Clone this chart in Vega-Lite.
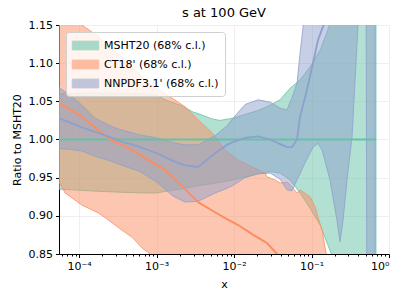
{
  "$schema": "https://vega.github.io/schema/vega-lite/v6.json",
  "width": 330,
  "height": 229,
  "autosize": {"type": "none"},
  "padding": {"left": 59, "top": 25, "right": 18, "bottom": 45},
  "title": {"text": "s at 100 GeV", "fontSize": 13, "fontWeight": "normal", "font": "DejaVu Sans", "offset": -1, "frame": "group", "color": "black"},
  "data": {"values": [
    {"pdf": "MSHT20 (68% c.l.)", "x": 5.5e-5, "lo": 0.935, "c": 1.0, "hi": 1.06},
    {"pdf": "MSHT20 (68% c.l.)", "x": 1.87e-4, "lo": 0.932, "c": 1.0, "hi": 1.061},
    {"pdf": "MSHT20 (68% c.l.)", "x": 6.12e-4, "lo": 0.93, "c": 1.0, "hi": 1.06},
    {"pdf": "MSHT20 (68% c.l.)", "x": 1.01e-3, "lo": 0.93, "c": 1.0, "hi": 1.058},
    {"pdf": "MSHT20 (68% c.l.)", "x": 1.29e-3, "lo": 0.932, "c": 1.0, "hi": 1.052},
    {"pdf": "MSHT20 (68% c.l.)", "x": 2.01e-3, "lo": 0.935, "c": 1.0, "hi": 1.045},
    {"pdf": "MSHT20 (68% c.l.)", "x": 2.96e-3, "lo": 0.938, "c": 1.0, "hi": 1.036},
    {"pdf": "MSHT20 (68% c.l.)", "x": 3.64e-3, "lo": 0.94, "c": 1.0, "hi": 1.033},
    {"pdf": "MSHT20 (68% c.l.)", "x": 5.2e-3, "lo": 0.942, "c": 1.0, "hi": 1.027},
    {"pdf": "MSHT20 (68% c.l.)", "x": 6.59e-3, "lo": 0.944, "c": 1.0, "hi": 1.025},
    {"pdf": "MSHT20 (68% c.l.)", "x": 9.71e-3, "lo": 0.947, "c": 1.0, "hi": 1.028},
    {"pdf": "MSHT20 (68% c.l.)", "x": 2.04e-2, "lo": 0.955, "c": 1.0, "hi": 1.038},
    {"pdf": "MSHT20 (68% c.l.)", "x": 2.92e-2, "lo": 0.958, "c": 1.0, "hi": 1.045},
    {"pdf": "MSHT20 (68% c.l.)", "x": 3.93e-2, "lo": 0.956, "c": 1.0, "hi": 1.052},
    {"pdf": "MSHT20 (68% c.l.)", "x": 5.28e-2, "lo": 0.947, "c": 1.0, "hi": 1.067},
    {"pdf": "MSHT20 (68% c.l.)", "x": 7.11e-2, "lo": 0.93, "c": 1.0, "hi": 1.078},
    {"pdf": "MSHT20 (68% c.l.)", "x": 9.57e-2, "lo": 0.91, "c": 1.0, "hi": 1.095},
    {"pdf": "MSHT20 (68% c.l.)", "x": 0.129, "lo": 0.888, "c": 1.0, "hi": 1.117},
    {"pdf": "MSHT20 (68% c.l.)", "x": 0.158, "lo": 0.865, "c": 1.0, "hi": 1.14},
    {"pdf": "MSHT20 (68% c.l.)", "x": 0.184, "lo": 0.848, "c": 1.0, "hi": 1.16},
    {"pdf": "MSHT20 (68% c.l.)", "x": 0.333, "lo": 0.8, "c": 1.0, "hi": 1.25},
    {"pdf": "MSHT20 (68% c.l.)", "x": 0.679, "lo": 0.75, "c": 1.0, "hi": 1.35},

    {"pdf": "CT18' (68% c.l.)", "x": 5.5e-5, "lo": 0.945, "c": 1.048, "hi": 1.17},
    {"pdf": "CT18' (68% c.l.)", "x": 6.59e-5, "lo": 0.93, "c": 1.043, "hi": 1.165},
    {"pdf": "CT18' (68% c.l.)", "x": 1.09e-4, "lo": 0.914, "c": 1.03, "hi": 1.15},
    {"pdf": "CT18' (68% c.l.)", "x": 1.76e-4, "lo": 0.904, "c": 1.012, "hi": 1.135},
    {"pdf": "CT18' (68% c.l.)", "x": 2.51e-4, "lo": 0.893, "c": 1.0, "hi": 1.12},
    {"pdf": "CT18' (68% c.l.)", "x": 3.59e-4, "lo": 0.881, "c": 0.993, "hi": 1.108},
    {"pdf": "CT18' (68% c.l.)", "x": 4.83e-4, "lo": 0.872, "c": 0.986, "hi": 1.095},
    {"pdf": "CT18' (68% c.l.)", "x": 6.5e-4, "lo": 0.858, "c": 0.978, "hi": 1.082},
    {"pdf": "CT18' (68% c.l.)", "x": 8.75e-4, "lo": 0.848, "c": 0.97, "hi": 1.07},
    {"pdf": "CT18' (68% c.l.)", "x": 1.29e-3, "lo": 0.83, "c": 0.96, "hi": 1.06},
    {"pdf": "CT18' (68% c.l.)", "x": 2.33e-3, "lo": 0.8, "c": 0.935, "hi": 1.043},
    {"pdf": "CT18' (68% c.l.)", "x": 3.43e-3, "lo": 0.79, "c": 0.918, "hi": 1.026},
    {"pdf": "CT18' (68% c.l.)", "x": 5.2e-3, "lo": 0.78, "c": 0.907, "hi": 1.009},
    {"pdf": "CT18' (68% c.l.)", "x": 7.66e-3, "lo": 0.77, "c": 0.897, "hi": 0.986},
    {"pdf": "CT18' (68% c.l.)", "x": 1.13e-2, "lo": 0.76, "c": 0.888, "hi": 0.973},
    {"pdf": "CT18' (68% c.l.)", "x": 1.71e-2, "lo": 0.75, "c": 0.876, "hi": 0.964},
    {"pdf": "CT18' (68% c.l.)", "x": 2.51e-2, "lo": 0.74, "c": 0.866, "hi": 0.956},
    {"pdf": "CT18' (68% c.l.)", "x": 2.67e-2, "lo": 0.738, "c": 0.864, "hi": 0.951},
    {"pdf": "CT18' (68% c.l.)", "x": 3.38e-2, "lo": 0.73, "c": 0.853, "hi": 0.947},
    {"pdf": "CT18' (68% c.l.)", "x": 3.93e-2, "lo": 0.72, "c": 0.845, "hi": 0.943},
    {"pdf": "CT18' (68% c.l.)", "x": 4.94e-2, "lo": 0.71, "c": 0.84, "hi": 0.944},
    {"pdf": "CT18' (68% c.l.)", "x": 6.5e-2, "lo": 0.7, "c": 0.83, "hi": 0.93},
    {"pdf": "CT18' (68% c.l.)", "x": 7.11e-2, "lo": 0.7, "c": 0.83, "hi": 0.934},
    {"pdf": "CT18' (68% c.l.)", "x": 9.57e-2, "lo": 0.69, "c": 0.82, "hi": 0.925},
    {"pdf": "CT18' (68% c.l.)", "x": 0.111, "lo": 0.68, "c": 0.81, "hi": 0.912},
    {"pdf": "CT18' (68% c.l.)", "x": 0.121, "lo": 0.68, "c": 0.8, "hi": 0.898},
    {"pdf": "CT18' (68% c.l.)", "x": 0.137, "lo": 0.67, "c": 0.79, "hi": 0.881},
    {"pdf": "CT18' (68% c.l.)", "x": 0.149, "lo": 0.67, "c": 0.78, "hi": 0.859},
    {"pdf": "CT18' (68% c.l.)", "x": 0.158, "lo": 0.66, "c": 0.77, "hi": 0.846},

    {"pdf": "NNPDF3.1' (68% c.l.)", "x": 5.5e-5, "lo": 0.988, "c": 1.028, "hi": 1.068},
    {"pdf": "NNPDF3.1' (68% c.l.)", "x": 7.66e-5, "lo": 0.987, "c": 1.022, "hi": 1.058},
    {"pdf": "NNPDF3.1' (68% c.l.)", "x": 1.09e-4, "lo": 0.985, "c": 1.016, "hi": 1.045},
    {"pdf": "NNPDF3.1' (68% c.l.)", "x": 1.61e-4, "lo": 0.978, "c": 1.01, "hi": 1.028},
    {"pdf": "NNPDF3.1' (68% c.l.)", "x": 2.51e-4, "lo": 0.972, "c": 1.003, "hi": 1.018},
    {"pdf": "NNPDF3.1' (68% c.l.)", "x": 3.38e-4, "lo": 0.967, "c": 0.998, "hi": 1.013},
    {"pdf": "NNPDF3.1' (68% c.l.)", "x": 6.12e-4, "lo": 0.958, "c": 0.99, "hi": 1.006},
    {"pdf": "NNPDF3.1' (68% c.l.)", "x": 1.01e-3, "lo": 0.944, "c": 0.982, "hi": 1.002},
    {"pdf": "NNPDF3.1' (68% c.l.)", "x": 1.63e-3, "lo": 0.926, "c": 0.972, "hi": 0.996},
    {"pdf": "NNPDF3.1' (68% c.l.)", "x": 2.33e-3, "lo": 0.918, "c": 0.966, "hi": 0.993},
    {"pdf": "NNPDF3.1' (68% c.l.)", "x": 3.43e-3, "lo": 0.919, "c": 0.964, "hi": 0.993},
    {"pdf": "NNPDF3.1' (68% c.l.)", "x": 5.69e-3, "lo": 0.93, "c": 0.982, "hi": 1.005},
    {"pdf": "NNPDF3.1' (68% c.l.)", "x": 8.13e-3, "lo": 0.936, "c": 0.993, "hi": 1.018},
    {"pdf": "NNPDF3.1' (68% c.l.)", "x": 9.71e-3, "lo": 0.94, "c": 0.997, "hi": 1.028},
    {"pdf": "NNPDF3.1' (68% c.l.)", "x": 1.39e-2, "lo": 0.95, "c": 1.002, "hi": 1.046},
    {"pdf": "NNPDF3.1' (68% c.l.)", "x": 2.04e-2, "lo": 0.955, "c": 1.004, "hi": 1.052},
    {"pdf": "NNPDF3.1' (68% c.l.)", "x": 2.92e-2, "lo": 0.956, "c": 1.0, "hi": 1.049},
    {"pdf": "NNPDF3.1' (68% c.l.)", "x": 3.93e-2, "lo": 0.948, "c": 0.994, "hi": 1.041},
    {"pdf": "NNPDF3.1' (68% c.l.)", "x": 4.83e-2, "lo": 0.934, "c": 0.99, "hi": 1.039},
    {"pdf": "NNPDF3.1' (68% c.l.)", "x": 5.6e-2, "lo": 0.933, "c": 0.99, "hi": 1.055},
    {"pdf": "NNPDF3.1' (68% c.l.)", "x": 6.5e-2, "lo": 0.947, "c": 1.0, "hi": 1.074},
    {"pdf": "NNPDF3.1' (68% c.l.)", "x": 7.11e-2, "lo": 0.955, "c": 1.03, "hi": 1.113},
    {"pdf": "NNPDF3.1' (68% c.l.)", "x": 7.77e-2, "lo": 0.964, "c": 1.045, "hi": 1.147},
    {"pdf": "NNPDF3.1' (68% c.l.)", "x": 8.49e-2, "lo": 0.972, "c": 1.06, "hi": 1.2},
    {"pdf": "NNPDF3.1' (68% c.l.)", "x": 0.1045, "lo": 0.99, "c": 1.1, "hi": 1.3},
    {"pdf": "NNPDF3.1' (68% c.l.)", "x": 0.121, "lo": 0.995, "c": 1.13, "hi": 1.35},
    {"pdf": "NNPDF3.1' (68% c.l.)", "x": 0.137, "lo": 0.986, "c": 1.145, "hi": 1.35},
    {"pdf": "NNPDF3.1' (68% c.l.)", "x": 0.173, "lo": 0.947, "c": 1.17, "hi": 1.4},
    {"pdf": "NNPDF3.1' (68% c.l.)", "x": 0.213, "lo": 0.894, "c": 1.18, "hi": 1.4},
    {"pdf": "NNPDF3.1' (68% c.l.)", "x": 0.233, "lo": 0.866, "c": 1.19, "hi": 1.4},
    {"pdf": "NNPDF3.1' (68% c.l.)", "x": 0.255, "lo": 0.894, "c": 1.2, "hi": 1.4},
    {"pdf": "NNPDF3.1' (68% c.l.)", "x": 0.287, "lo": 0.947, "c": 1.22, "hi": 1.4},
    {"pdf": "NNPDF3.1' (68% c.l.)", "x": 0.333, "lo": 1.003, "c": 1.25, "hi": 1.4},
    {"pdf": "NNPDF3.1' (68% c.l.)", "x": 0.398, "lo": 1.15, "c": 1.3, "hi": 1.45},
    {"pdf": "NNPDF3.1' (68% c.l.)", "x": 0.505, "lo": 1.25, "c": 1.35, "hi": 1.5},
    {"pdf": "NNPDF3.1' (68% c.l.)", "x": 0.52, "lo": 0.7, "c": 1.35, "hi": 1.5},
    {"pdf": "NNPDF3.1' (68% c.l.)", "x": 0.659, "lo": 0.7, "c": 1.35, "hi": 1.5}
  ]},
  "resolve": {"axis": {"x": "independent"}},
  "layer": [
    {
      "transform": [{"filter": "datum.pdf == 'MSHT20 (68% c.l.)'"}],
      "mark": {"type": "area", "clip": true, "fillOpacity": 0.5, "strokeWidth": 1, "strokeOpacity": 0.8},
      "encoding": {
        "x": {"field": "x", "type": "quantitative", "scale": {"type": "log", "domain": [5.5e-5, 1], "nice": false},
          "axis": {"orient": "bottom", "values": [1e-4, 1e-3, 1e-2, 1e-1, 1], "title": "x", "titlePadding": 7, "labelPadding": 3,
            "labelExpr": "'10' + replace(replace(replace(replace(replace(replace('' + round(log(datum.value)/LN10), '-', '⁻'), '4', '⁴'), '3', '³'), '2', '²'), '1', '¹'), '0', '⁰')"}},
        "y": {"field": "lo", "type": "quantitative", "scale": {"domain": [0.85, 1.15], "nice": false, "zero": false},
          "axis": {"values": [0.85, 0.9, 0.95, 1.0, 1.05, 1.1, 1.15], "labelExpr": "format(datum.value, '.2f')", "labelOverlap": false, "title": "Ratio to MSHT20", "titlePadding": 6, "labelPadding": 3}},
        "y2": {"field": "hi"},
        "color": {"field": "pdf", "type": "nominal",
          "scale": {"domain": ["MSHT20 (68% c.l.)", "CT18' (68% c.l.)", "NNPDF3.1' (68% c.l.)"], "range": ["#66c2a5", "#fc8d62", "#8da0cb"]},
          "legend": {"title": null, "orient": "top-left", "offset": 7}},
        "stroke": {"field": "pdf", "type": "nominal", "legend": null,
          "scale": {"domain": ["MSHT20 (68% c.l.)", "CT18' (68% c.l.)", "NNPDF3.1' (68% c.l.)"], "range": ["#66c2a5", "#fc8d62", "#8da0cb"]}}
      }
    },
    {
      "transform": [{"filter": "datum.pdf == \"CT18' (68% c.l.)\""}],
      "mark": {"type": "area", "clip": true, "fillOpacity": 0.5, "strokeWidth": 1, "strokeOpacity": 0.8},
      "encoding": {
        "x": {"field": "x", "type": "quantitative", "axis": null},
        "y": {"field": "lo", "type": "quantitative",
          "axis": {"values": [0.85, 0.9, 0.95, 1.0, 1.05, 1.1, 1.15], "labelExpr": "format(datum.value, '.2f')", "labelOverlap": false, "title": "Ratio to MSHT20", "titlePadding": 6, "labelPadding": 3}},
        "y2": {"field": "hi"},
        "color": {"field": "pdf", "type": "nominal"},
        "stroke": {"field": "pdf", "type": "nominal", "legend": null}
      }
    },
    {
      "transform": [{"filter": "datum.pdf == \"NNPDF3.1' (68% c.l.)\""}],
      "mark": {"type": "area", "clip": true, "fillOpacity": 0.5, "strokeWidth": 1, "strokeOpacity": 0.8},
      "encoding": {
        "x": {"field": "x", "type": "quantitative", "axis": null},
        "y": {"field": "lo", "type": "quantitative",
          "axis": {"values": [0.85, 0.9, 0.95, 1.0, 1.05, 1.1, 1.15], "labelExpr": "format(datum.value, '.2f')", "labelOverlap": false, "title": "Ratio to MSHT20", "titlePadding": 6, "labelPadding": 3}},
        "y2": {"field": "hi"},
        "color": {"field": "pdf", "type": "nominal"},
        "stroke": {"field": "pdf", "type": "nominal", "legend": null}
      }
    },
    {
      "transform": [{"filter": "datum.pdf == 'MSHT20 (68% c.l.)'"}],
      "mark": {"type": "line", "clip": true, "color": "#66c2a5", "strokeWidth": 2},
      "encoding": {
        "x": {"field": "x", "type": "quantitative",
          "axis": {"orient": "bottom", "values": [6e-5, 7e-5, 8e-5, 9e-5, 2e-4, 3e-4, 4e-4, 5e-4, 6e-4, 7e-4, 8e-4, 9e-4, 2e-3, 3e-3, 4e-3, 5e-3, 6e-3, 7e-3, 8e-3, 9e-3, 2e-2, 3e-2, 4e-2, 5e-2, 6e-2, 7e-2, 8e-2, 9e-2, 0.2, 0.3, 0.4, 0.5, 0.6, 0.7, 0.8, 0.9],
            "labels": false, "grid": false, "domain": false, "tickSize": 2, "title": null}},
        "y": {"field": "c", "type": "quantitative",
          "axis": {"values": [0.85, 0.9, 0.95, 1.0, 1.05, 1.1, 1.15], "labelExpr": "format(datum.value, '.2f')", "labelOverlap": false, "title": "Ratio to MSHT20", "titlePadding": 6, "labelPadding": 3}}
      }
    },
    {
      "transform": [{"filter": "datum.pdf == \"CT18' (68% c.l.)\""}],
      "mark": {"type": "line", "clip": true, "color": "#fc8d62", "strokeWidth": 2},
      "encoding": {
        "x": {"field": "x", "type": "quantitative", "axis": null},
        "y": {"field": "c", "type": "quantitative",
          "axis": {"values": [0.85, 0.9, 0.95, 1.0, 1.05, 1.1, 1.15], "labelExpr": "format(datum.value, '.2f')", "labelOverlap": false, "title": "Ratio to MSHT20", "titlePadding": 6, "labelPadding": 3}}
      }
    },
    {
      "transform": [{"filter": "datum.pdf == \"NNPDF3.1' (68% c.l.)\""}],
      "mark": {"type": "line", "clip": true, "color": "#8da0cb", "strokeWidth": 1.8},
      "encoding": {
        "x": {"field": "x", "type": "quantitative", "axis": null},
        "y": {"field": "c", "type": "quantitative",
          "axis": {"values": [0.85, 0.9, 0.95, 1.0, 1.05, 1.1, 1.15], "labelExpr": "format(datum.value, '.2f')", "labelOverlap": false, "title": "Ratio to MSHT20", "titlePadding": 6, "labelPadding": 3}}
      }
    }
  ],
  "config": {
    "font": "DejaVu Sans",
    "view": {"stroke": null},
    "axis": {"labelFontSize": 11, "titleFontSize": 11, "titleFontWeight": "normal", "labelColor": "black", "titleColor": "black",
      "domainColor": "black", "tickColor": "black", "gridColor": "#ebebeb", "gridWidth": 0.8, "tickSize": 3.5},
    "axisY": {"labelOverlap": false},
    "legend": {"fillColor": "rgba(255,255,255,0.8)", "strokeColor": "#d0d0d0", "cornerRadius": 3, "padding": 6,
      "labelFontSize": 11, "labelColor": "black", "symbolType": "M-2,-0.66H2V0.66H-2Z", "symbolSize": 175, "symbolOffset": 6,
      "symbolOpacity": 0.55, "symbolStrokeColor": "#666666", "symbolStrokeWidth": 1, "rowPadding": 5, "labelOffset": 11, "labelLimit": 300}
  }
}
